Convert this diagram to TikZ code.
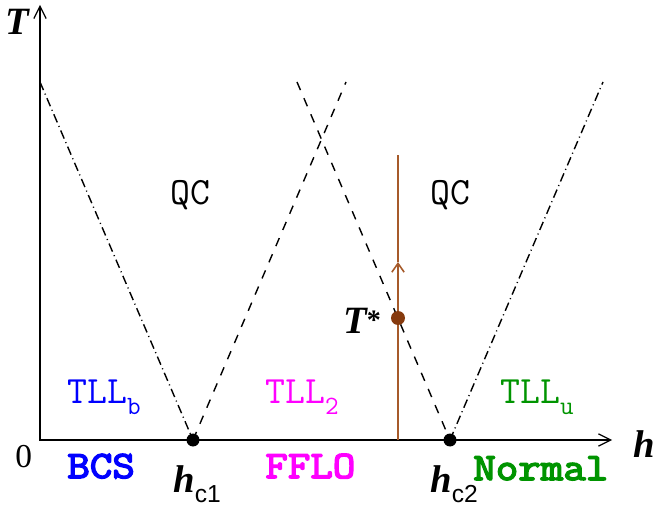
\documentclass[tikz,border=0pt]{standalone}
\usepackage{fontspec}
\setmainfont{Liberation Serif}
\setsansfont{Liberation Sans}
\setmonofont[BoldFont={Latin Modern Mono}, BoldFeatures={FakeBold=4, FakeStretch=1.13}]{Latin Modern Mono}
\usetikzlibrary{arrows.meta}
\definecolor{cBlue}{HTML}{0000FF}
\definecolor{cMagenta}{HTML}{FF00FF}
\definecolor{cGreen}{HTML}{009400}
\definecolor{cBrown}{HTML}{A65A2A}
\definecolor{cDot}{HTML}{863A0E}

\begin{document}
\begin{tikzpicture}[
    x=0.02cm, y=-0.02cm,
    axis/.style={
        line width=1.6pt, line join=miter,
        {Straight Barb[length=7pt,width=7pt,line width=0.7pt]}-{Straight Barb[length=7pt,width=7pt,line width=0.7pt]}
    },
    dd/.style={line width=0.8pt, dash pattern=on 5pt off 2.2pt on 0.6pt off 2.2pt},
    ds/.style={line width=0.8pt, dash pattern=on 5pt off 5pt},
    brn/.style={line width=0.75pt, draw=cBrown},
    pt/.style={circle, fill=black, inner sep=0pt, minimum size=0.26cm},
    bdot/.style={circle, fill=cDot, inner sep=0pt, minimum size=0.28cm},
    lbl/.style={inner sep=0pt, anchor=base west},
    axl/.style={lbl, font=\fontsize{22}{24}\selectfont\bfseries\itshape},
    qc/.style={lbl, font=\fontsize{22}{24}\selectfont\ttfamily},
    phase/.style={lbl, font=\fontsize{22}{24}\selectfont\ttfamily},
    ground/.style={lbl, font=\fontsize{22}{24}\selectfont\ttfamily\bfseries},
]
\useasboundingbox (0,0) rectangle (653,510);

% subscript helpers
\def\tsub#1{\raisebox{-6.8pt}{\fontsize{15}{17}\selectfont #1}}
\def\csub#1{\raisebox{-6.2pt}{\sffamily\mdseries\upshape\fontsize{14}{16}\selectfont #1}}

% =============================================
% AXES
% =============================================
\coordinate (O) at (40,440);
\coordinate (Ttip) at (40,5);
\coordinate (htip) at (612,440);

\draw[axis] (Ttip) |- (htip);

\node[axl] (Tlab) at (5,35) {T};
\node[axl] (hlab) at (633,457) {h};
\node[lbl, font=\fontsize{19}{21}\selectfont] (zero) at (15,467) {0};

% =============================================
% CROSSOVER LINES
% =============================================
\coordinate (hcA) at (193,440);
\coordinate (hcB) at (450,440);
\coordinate (bTop) at (40,82);
\coordinate (aTop) at (346,82);
\coordinate (cTop) at (297,82);
\coordinate (uTop) at (603,82);

\draw[dd] (bTop) -- (hcA);
\draw[ds] (hcA) -- (aTop);
\draw[ds] (cTop) -- (hcB);
\draw[dd] (hcB) -- (uTop);

% critical fields
\node[pt] (hc1) at (hcA) {};
\node[pt] (hc2) at (hcB) {};
\node[axl] (hc1lab) at (173,492) {h\csub{c1}};
\node[axl] (hc2lab) at (430,492) {h\csub{c2}};

% =============================================
% TEMPERATURE SCAN
% =============================================
\coordinate (tBot) at (398,440);
\coordinate (tMid) at (398,262);
\coordinate (tTop) at (398,155);

\draw[brn, -{Straight Barb[length=5pt,width=7pt,line width=0.9pt]}] (tBot) -- (tMid);
\draw[brn] (tMid) -- (tTop);

\node[bdot] (Tstar) at (398,318) {};
\node[axl] (Tstarlab) at (343,333)
    {T\raisebox{2pt}{\upshape\fontsize{16}{18}\selectfont *}};

% =============================================
% REGIONS
% =============================================
\node[qc] (qcL) at (170,205) {QC};
\node[qc] (qcR) at (430,205) {QC};

\node[phase, text=cBlue] (tllb) at (67,403) {TLL\tsub{b}};
\node[phase, text=cMagenta] (tll2) at (265,403) {TLL\tsub{2}};
\node[phase, text=cGreen] (tllu) at (500,403) {TLL\tsub{u}};

\node[ground, text=cBlue] (bcs) at (67,478) {BCS};
\node[ground, text=cMagenta] (fflo) at (265,478) {FFLO};
\node[ground, text=cGreen] (normal) at (473,480) {Normal};

\end{tikzpicture}
\end{document}
